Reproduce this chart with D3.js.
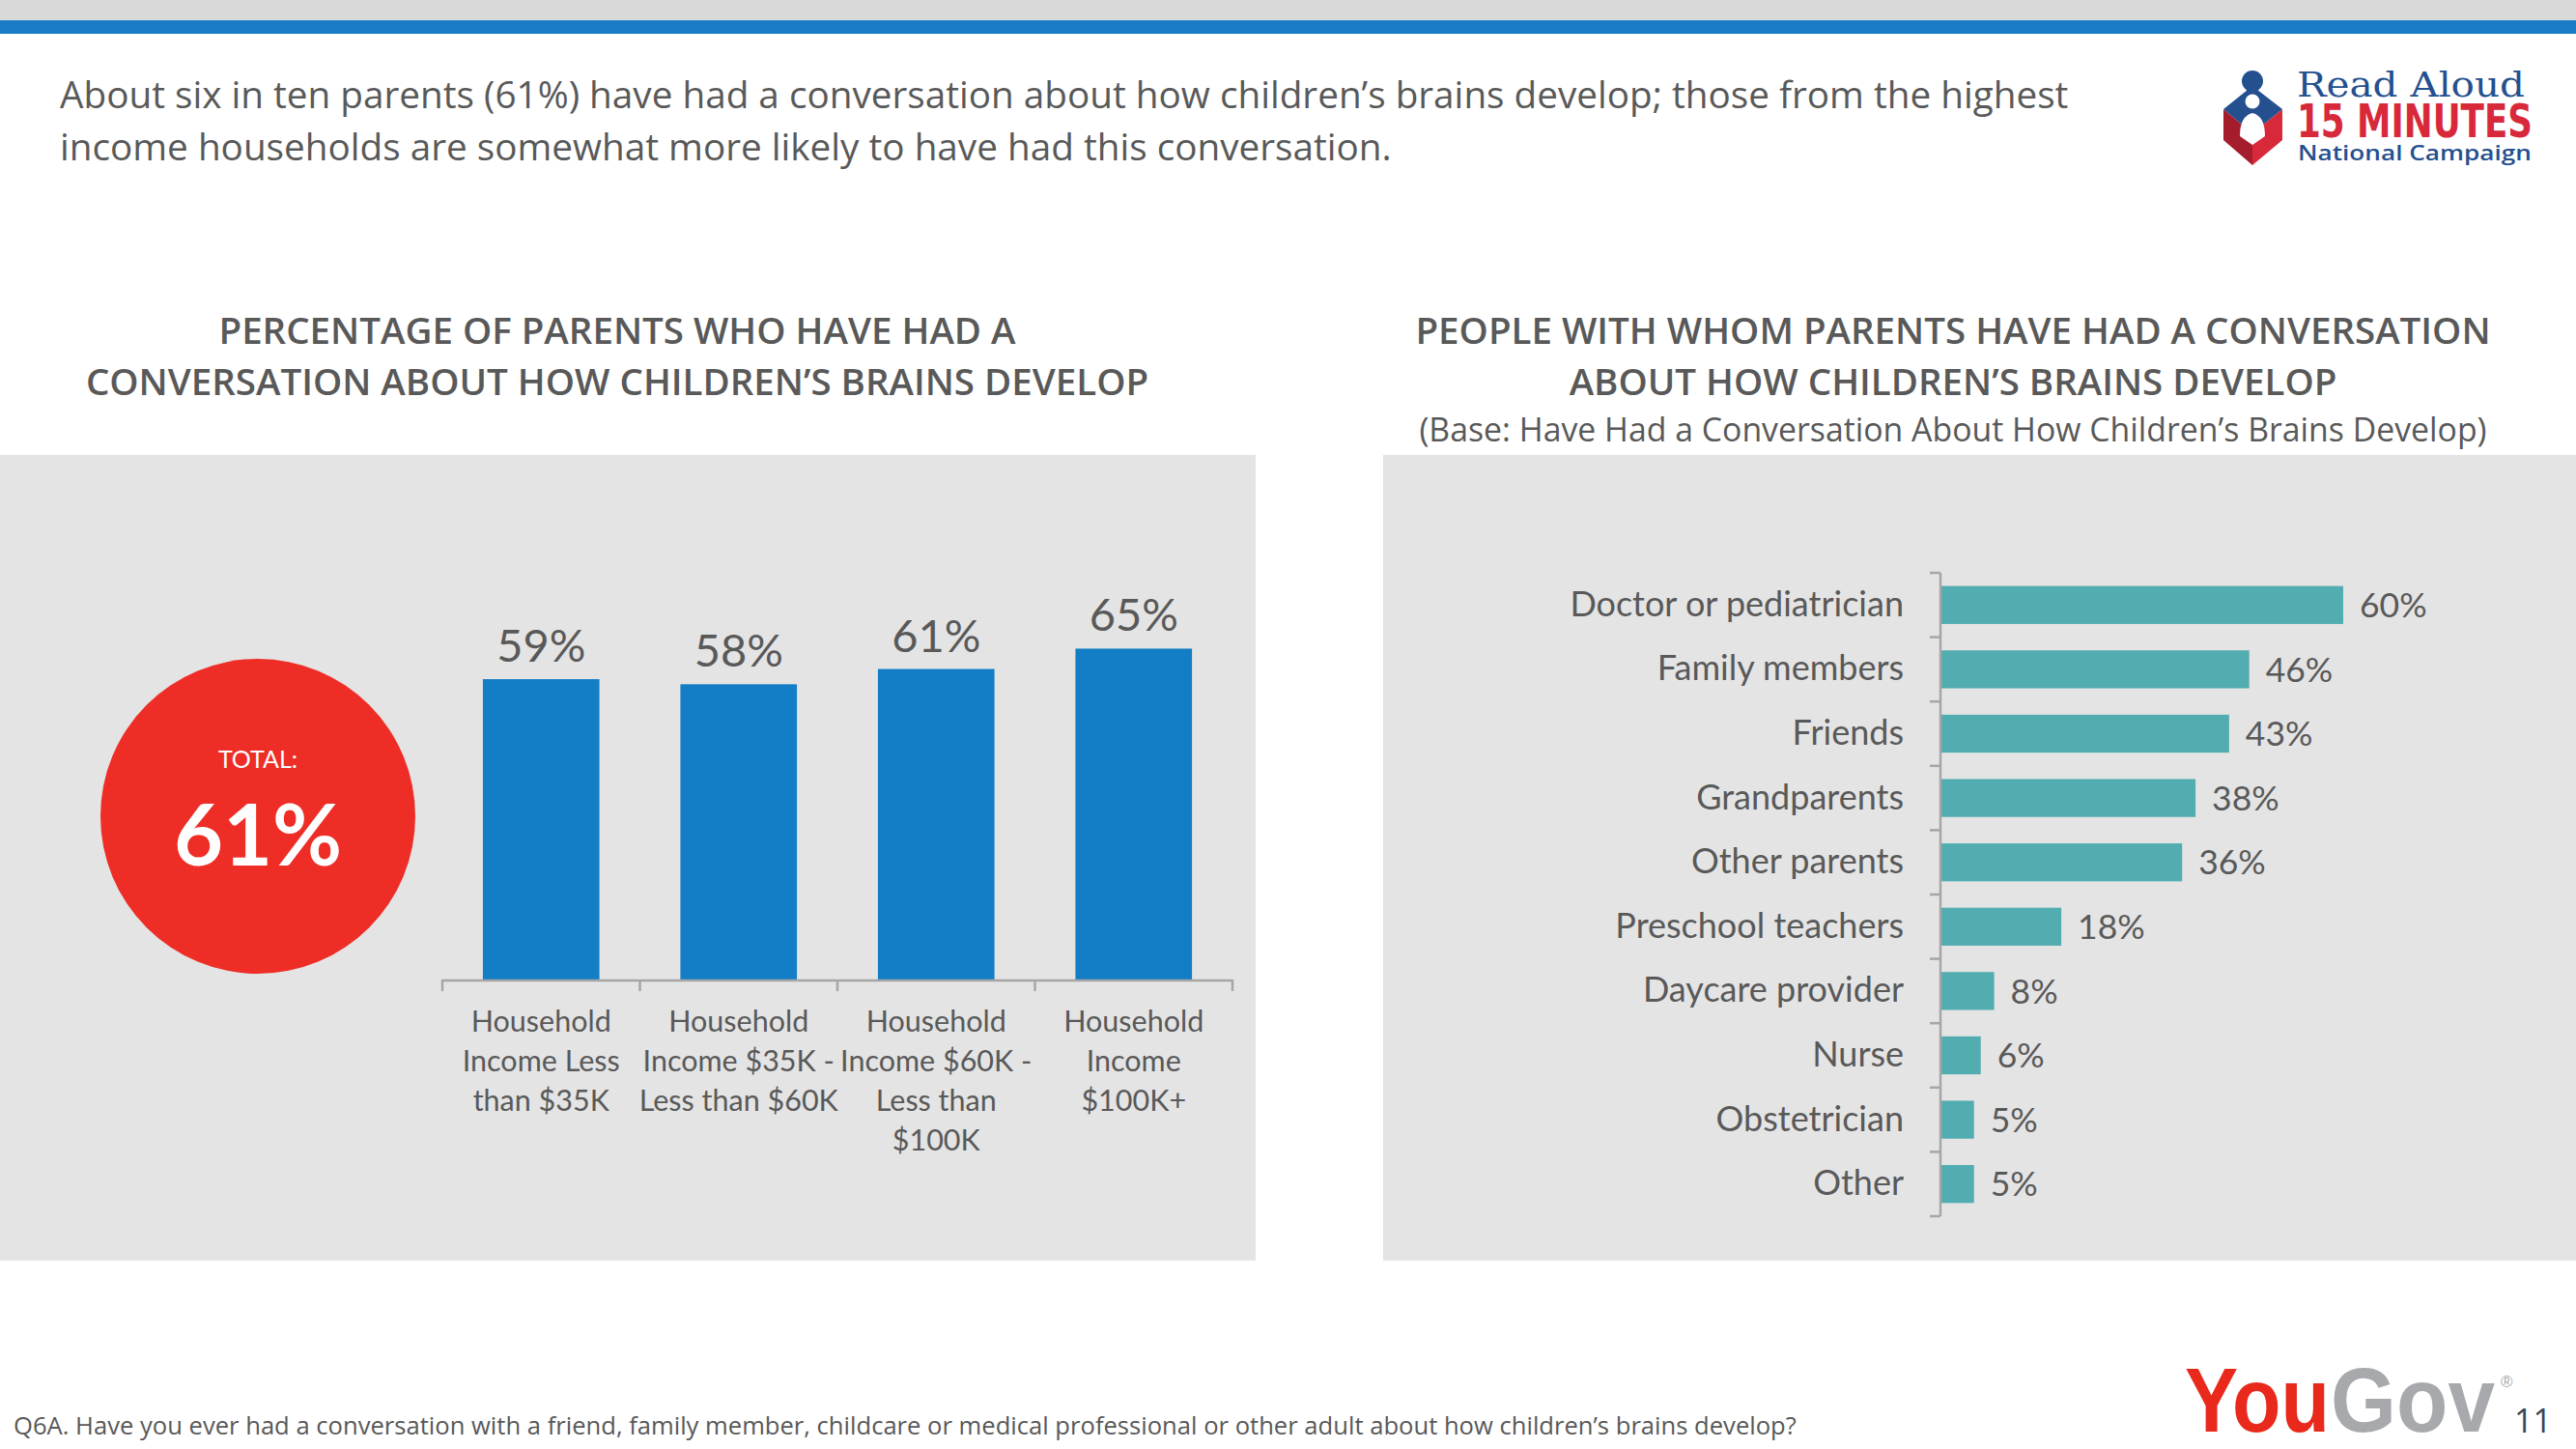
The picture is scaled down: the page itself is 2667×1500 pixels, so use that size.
<!DOCTYPE html>
<html>
<head>
<meta charset="utf-8">
<script src="https://cdn.jsdelivr.net/npm/d3@7"></script>
<style>
  html, body { margin: 0; padding: 0; background: #fff; }
  svg { display: block; }
</style>
</head>
<body>
<svg id="chart" width="2667" height="1500"></svg>
<script>
'use strict';

// slide texts
const headline = [
  "About six in ten parents (61%) have had a conversation about how children\u2019s brains develop; those from the highest",
  "income households are somewhat more likely to have had this conversation."
];
const leftTitle = ["PERCENTAGE OF PARENTS WHO HAVE HAD A", "CONVERSATION ABOUT HOW CHILDREN\u2019S BRAINS DEVELOP"];
const rightTitle = ["PEOPLE WITH WHOM PARENTS HAVE HAD A CONVERSATION", "ABOUT HOW CHILDREN\u2019S BRAINS DEVELOP"];
const rightSubtitle = "(Base: Have Had a Conversation About How Children\u2019s Brains Develop)";
const footnote = "Q6A. Have you ever had a conversation with a friend, family member, childcare or medical professional or other adult about how children\u2019s brains develop?";
const pageNumber = "11";

// left chart: income groups
const incomeLabels = [
  ["Household", "Income Less", "than $35K"],
  ["Household", "Income $35K -", "Less than $60K"],
  ["Household", "Income $60K -", "Less than", "$100K"],
  ["Household", "Income", "$100K+"]
];
const incomeValues = [59, 58, 61, 65];
const totalLabel = "TOTAL:";
const totalValue = 61;

// right chart: who parents talked to
const contactLabels = ["Doctor or pediatrician", "Family members", "Friends", "Grandparents", "Other parents",
  "Preschool teachers", "Daycare provider", "Nurse", "Obstetrician", "Other"];
const contactValues = [60, 46, 43, 38, 36, 18, 8, 6, 5, 5];

const TEXT = "#595959";
const FONT = "Lato, 'Open Sans', sans-serif";
const HEAD_FONT = "'Open Sans', sans-serif";

const svg = d3.select("#chart");
const fmt = d => d + "%";

/* ---------- page frame ---------- */
svg.append("rect").attr("x", 0).attr("y", 0).attr("width", 2667).attr("height", 21).attr("fill", "#d9d9d9");
svg.append("rect").attr("x", 0).attr("y", 21).attr("width", 2667).attr("height", 14).attr("fill", "#1a7cc6");

svg.append("g").selectAll("text")
  .data(headline)
  .join("text")
    .attr("x", 62)
    .attr("y", (d, i) => 112 + i * 54)
    .attr("font-family", HEAD_FONT)
    .attr("font-size", 38.7)
    .attr("fill", TEXT)
    .text(d => d);

/* ---------- Read Aloud logo ---------- */
const logo = svg.append("g");
logo.append("polygon").attr("points", "2302,113 2332,138 2332,171 2302,145").attr("fill", "#a51d2d");
logo.append("polygon").attr("points", "2363,113 2332,138 2332,171 2363,145").attr("fill", "#d8293b");
logo.append("polygon").attr("points", "2332,89 2363,113 2332,138 2302,113").attr("fill", "#24508f");
logo.append("rect").attr("x", 2326).attr("y", 88).attr("width", 12).attr("height", 8).attr("fill", "#24508f");
logo.append("circle").attr("cx", 2332).attr("cy", 84).attr("r", 11).attr("fill", "#24508f");
logo.append("circle").attr("cx", 2332).attr("cy", 105).attr("r", 7.5).attr("fill", "#fff");
logo.append("path").attr("d", "M2319,141 Q2319,120 2332,117 Q2345,120 2345,141 L2332,150 Z").attr("fill", "#fff");
logo.append("text").attr("x", 2378).attr("y", 100).attr("font-family", "'DejaVu Serif', serif").attr("font-size", 35)
  .attr("fill", "#24508f").attr("textLength", 236).attr("lengthAdjust", "spacingAndGlyphs").text("Read Aloud");
logo.append("text").attr("x", 2378).attr("y", 142).attr("font-family", "'DejaVu Sans Condensed', 'DejaVu Sans', sans-serif")
  .attr("font-weight", "bold").attr("font-size", 48).attr("fill", "#d8293b")
  .attr("textLength", 244).attr("lengthAdjust", "spacingAndGlyphs").text("15 MINUTES");
logo.append("text").attr("x", 2379).attr("y", 166).attr("font-family", "'Open Sans', sans-serif").attr("font-weight", 600)
  .attr("font-size", 22).attr("fill", "#24508f")
  .attr("textLength", 242).attr("lengthAdjust", "spacingAndGlyphs").text("National Campaign");

/* ---------- titles ---------- */
function titleBlock(lines, cx) {
  svg.append("g").selectAll("text")
    .data(lines)
    .join("text")
      .attr("x", cx)
      .attr("y", (d, i) => 356 + i * 53)
      .attr("text-anchor", "middle")
      .attr("font-family", HEAD_FONT)
      .attr("font-weight", 600)
      .attr("font-size", 38.5)
      .attr("fill", TEXT)
      .text(d => d);
}
titleBlock(leftTitle, 639);
titleBlock(rightTitle, 2022);
svg.append("text")
  .attr("x", 2022).attr("y", 457)
  .attr("text-anchor", "middle")
  .attr("font-family", HEAD_FONT)
  .attr("font-size", 33.8)
  .attr("fill", TEXT)
  .text(rightSubtitle);

/* ---------- panels ---------- */
svg.append("rect").attr("x", 0).attr("y", 471).attr("width", 1300).attr("height", 834).attr("fill", "#e4e4e4");
svg.append("rect").attr("x", 1432).attr("y", 471).attr("width", 1235).attr("height", 834).attr("fill", "#e4e4e4");

/* ---------- total circle ---------- */
svg.append("circle").attr("cx", 267).attr("cy", 845).attr("r", 163).attr("fill", "#ee2d26");
svg.append("text").attr("x", 267).attr("y", 795).attr("text-anchor", "middle")
  .attr("font-family", FONT).attr("font-size", 25).attr("fill", "#fff").text(totalLabel);
svg.append("text").attr("x", 267).attr("y", 896).attr("text-anchor", "middle")
  .attr("font-family", FONT).attr("font-weight", "bold").attr("font-size", 88).attr("fill", "#fff").text(fmt(totalValue));

/* ---------- left bar chart ---------- */
const xInc = d3.scaleBand()
  .domain(d3.range(incomeValues.length))
  .range([458, 1276])
  .paddingInner(0.41)
  .paddingOuter(0.205);
const yInc = d3.scaleLinear().domain([0, 100]).range([1014, 487]);

const left = svg.append("g");
left.selectAll("rect.bar")
  .data(incomeValues)
  .join("rect")
    .attr("class", "bar")
    .attr("x", (d, i) => xInc(i))
    .attr("y", d => yInc(d))
    .attr("width", xInc.bandwidth())
    .attr("height", d => yInc(0) - yInc(d))
    .attr("fill", "#137dc5");

left.selectAll("text.val")
  .data(incomeValues)
  .join("text")
    .attr("class", "val")
    .attr("x", (d, i) => xInc(i) + xInc.bandwidth() / 2)
    .attr("y", d => yInc(d) - 18)
    .attr("text-anchor", "middle")
    .attr("font-family", FONT)
    .attr("font-size", 47)
    .attr("fill", TEXT)
    .text(fmt);

// category axis: ticks at band boundaries
const bounds = d3.range(incomeValues.length + 1)
  .map(i => xInc(0) + xInc.bandwidth() / 2 - xInc.step() / 2 + i * xInc.step());
left.append("line")
  .attr("x1", bounds[0]).attr("x2", bounds[bounds.length - 1])
  .attr("y1", yInc(0) + 1).attr("y2", yInc(0) + 1)
  .attr("stroke", "#a6a6a6").attr("stroke-width", 2.5);
left.selectAll("line.tick")
  .data(bounds)
  .join("line")
    .attr("class", "tick")
    .attr("x1", d => d).attr("x2", d => d)
    .attr("y1", yInc(0)).attr("y2", yInc(0) + 12)
    .attr("stroke", "#a6a6a6").attr("stroke-width", 2.5);

left.selectAll("text.cat")
  .data(incomeLabels)
  .join("text")
    .attr("class", "cat")
    .attr("x", (d, i) => xInc(i) + xInc.bandwidth() / 2)
    .attr("y", 1068)
    .attr("text-anchor", "middle")
    .attr("font-family", FONT)
    .attr("font-size", 30.5)
    .attr("fill", TEXT)
    .selectAll("tspan")
    .data(d => d)
    .join("tspan")
      .attr("x", function () { return d3.select(this.parentNode).attr("x"); })
      .attr("dy", (d, i) => i === 0 ? 0 : 41)
      .text(d => d);

/* ---------- right bar chart ---------- */
const yCon = d3.scaleBand()
  .domain(contactLabels)
  .range([593, 1259])
  .paddingInner(0.41)
  .paddingOuter(0.205);
const xCon = d3.scaleLinear().domain([0, 100]).range([2009, 2704]);

const right = svg.append("g");
right.selectAll("rect")
  .data(contactValues)
  .join("rect")
    .attr("x", xCon(0))
    .attr("y", (d, i) => yCon(contactLabels[i]))
    .attr("width", d => xCon(d) - xCon(0))
    .attr("height", yCon.bandwidth())
    .attr("fill", "#52adb0");

right.selectAll("text.val")
  .data(contactValues)
  .join("text")
    .attr("class", "val")
    .attr("x", d => xCon(d) + 17)
    .attr("y", (d, i) => yCon(contactLabels[i]) + yCon.bandwidth() / 2)
    .attr("dy", "0.36em")
    .attr("font-family", FONT)
    .attr("font-size", 35.5)
    .attr("fill", TEXT)
    .text(fmt);

const axisL = right.append("g")
  .attr("transform", `translate(${xCon(0)},0)`)
  .call(d3.axisLeft(yCon).tickSize(0).tickPadding(38));
axisL.select(".domain").remove();
axisL.selectAll("text")
  .attr("font-family", FONT)
  .attr("font-size", 36)
  .attr("fill", TEXT);

const rBounds = contactLabels.map(c => yCon(c) + yCon.bandwidth() / 2 - yCon.step() / 2)
  .concat([yCon(contactLabels[contactLabels.length - 1]) + yCon.bandwidth() / 2 + yCon.step() / 2]);
right.append("line")
  .attr("x1", xCon(0)).attr("x2", xCon(0))
  .attr("y1", rBounds[0]).attr("y2", rBounds[rBounds.length - 1])
  .attr("stroke", "#a6a6a6").attr("stroke-width", 2.5);
right.selectAll("line.tick")
  .data(rBounds)
  .join("line")
    .attr("class", "tick")
    .attr("x1", xCon(0) - 11).attr("x2", xCon(0))
    .attr("y1", d => d).attr("y2", d => d)
    .attr("stroke", "#a6a6a6").attr("stroke-width", 2.5);

/* ---------- footer ---------- */
svg.append("text")
  .attr("x", 14).attr("y", 1485)
  .attr("font-family", HEAD_FONT)
  .attr("font-size", 25.6)
  .attr("fill", TEXT)
  .text(footnote);

const yg = svg.append("g").attr("font-family", "'Liberation Sans', Arial, sans-serif").attr("font-weight", "bold");
yg.append("text").attr("x", 2262).attr("y", 1482).attr("font-size", 95).attr("fill", "#e8291c")
  .attr("textLength", 150).attr("lengthAdjust", "spacingAndGlyphs").text("You");
yg.append("text").attr("x", 2413).attr("y", 1482).attr("font-size", 95).attr("fill", "#a7a9ac")
  .attr("textLength", 170).attr("lengthAdjust", "spacingAndGlyphs").text("Gov");
yg.append("text").attr("x", 2589).attr("y", 1436).attr("font-size", 17).attr("font-weight", "normal")
  .attr("fill", "#a7a9ac").text("\u00ae");
svg.append("text").attr("x", 2603).attr("y", 1483).attr("font-family", HEAD_FONT).attr("font-size", 34)
  .attr("fill", "#3d4451").text(pageNumber);
</script>
</body>
</html>
